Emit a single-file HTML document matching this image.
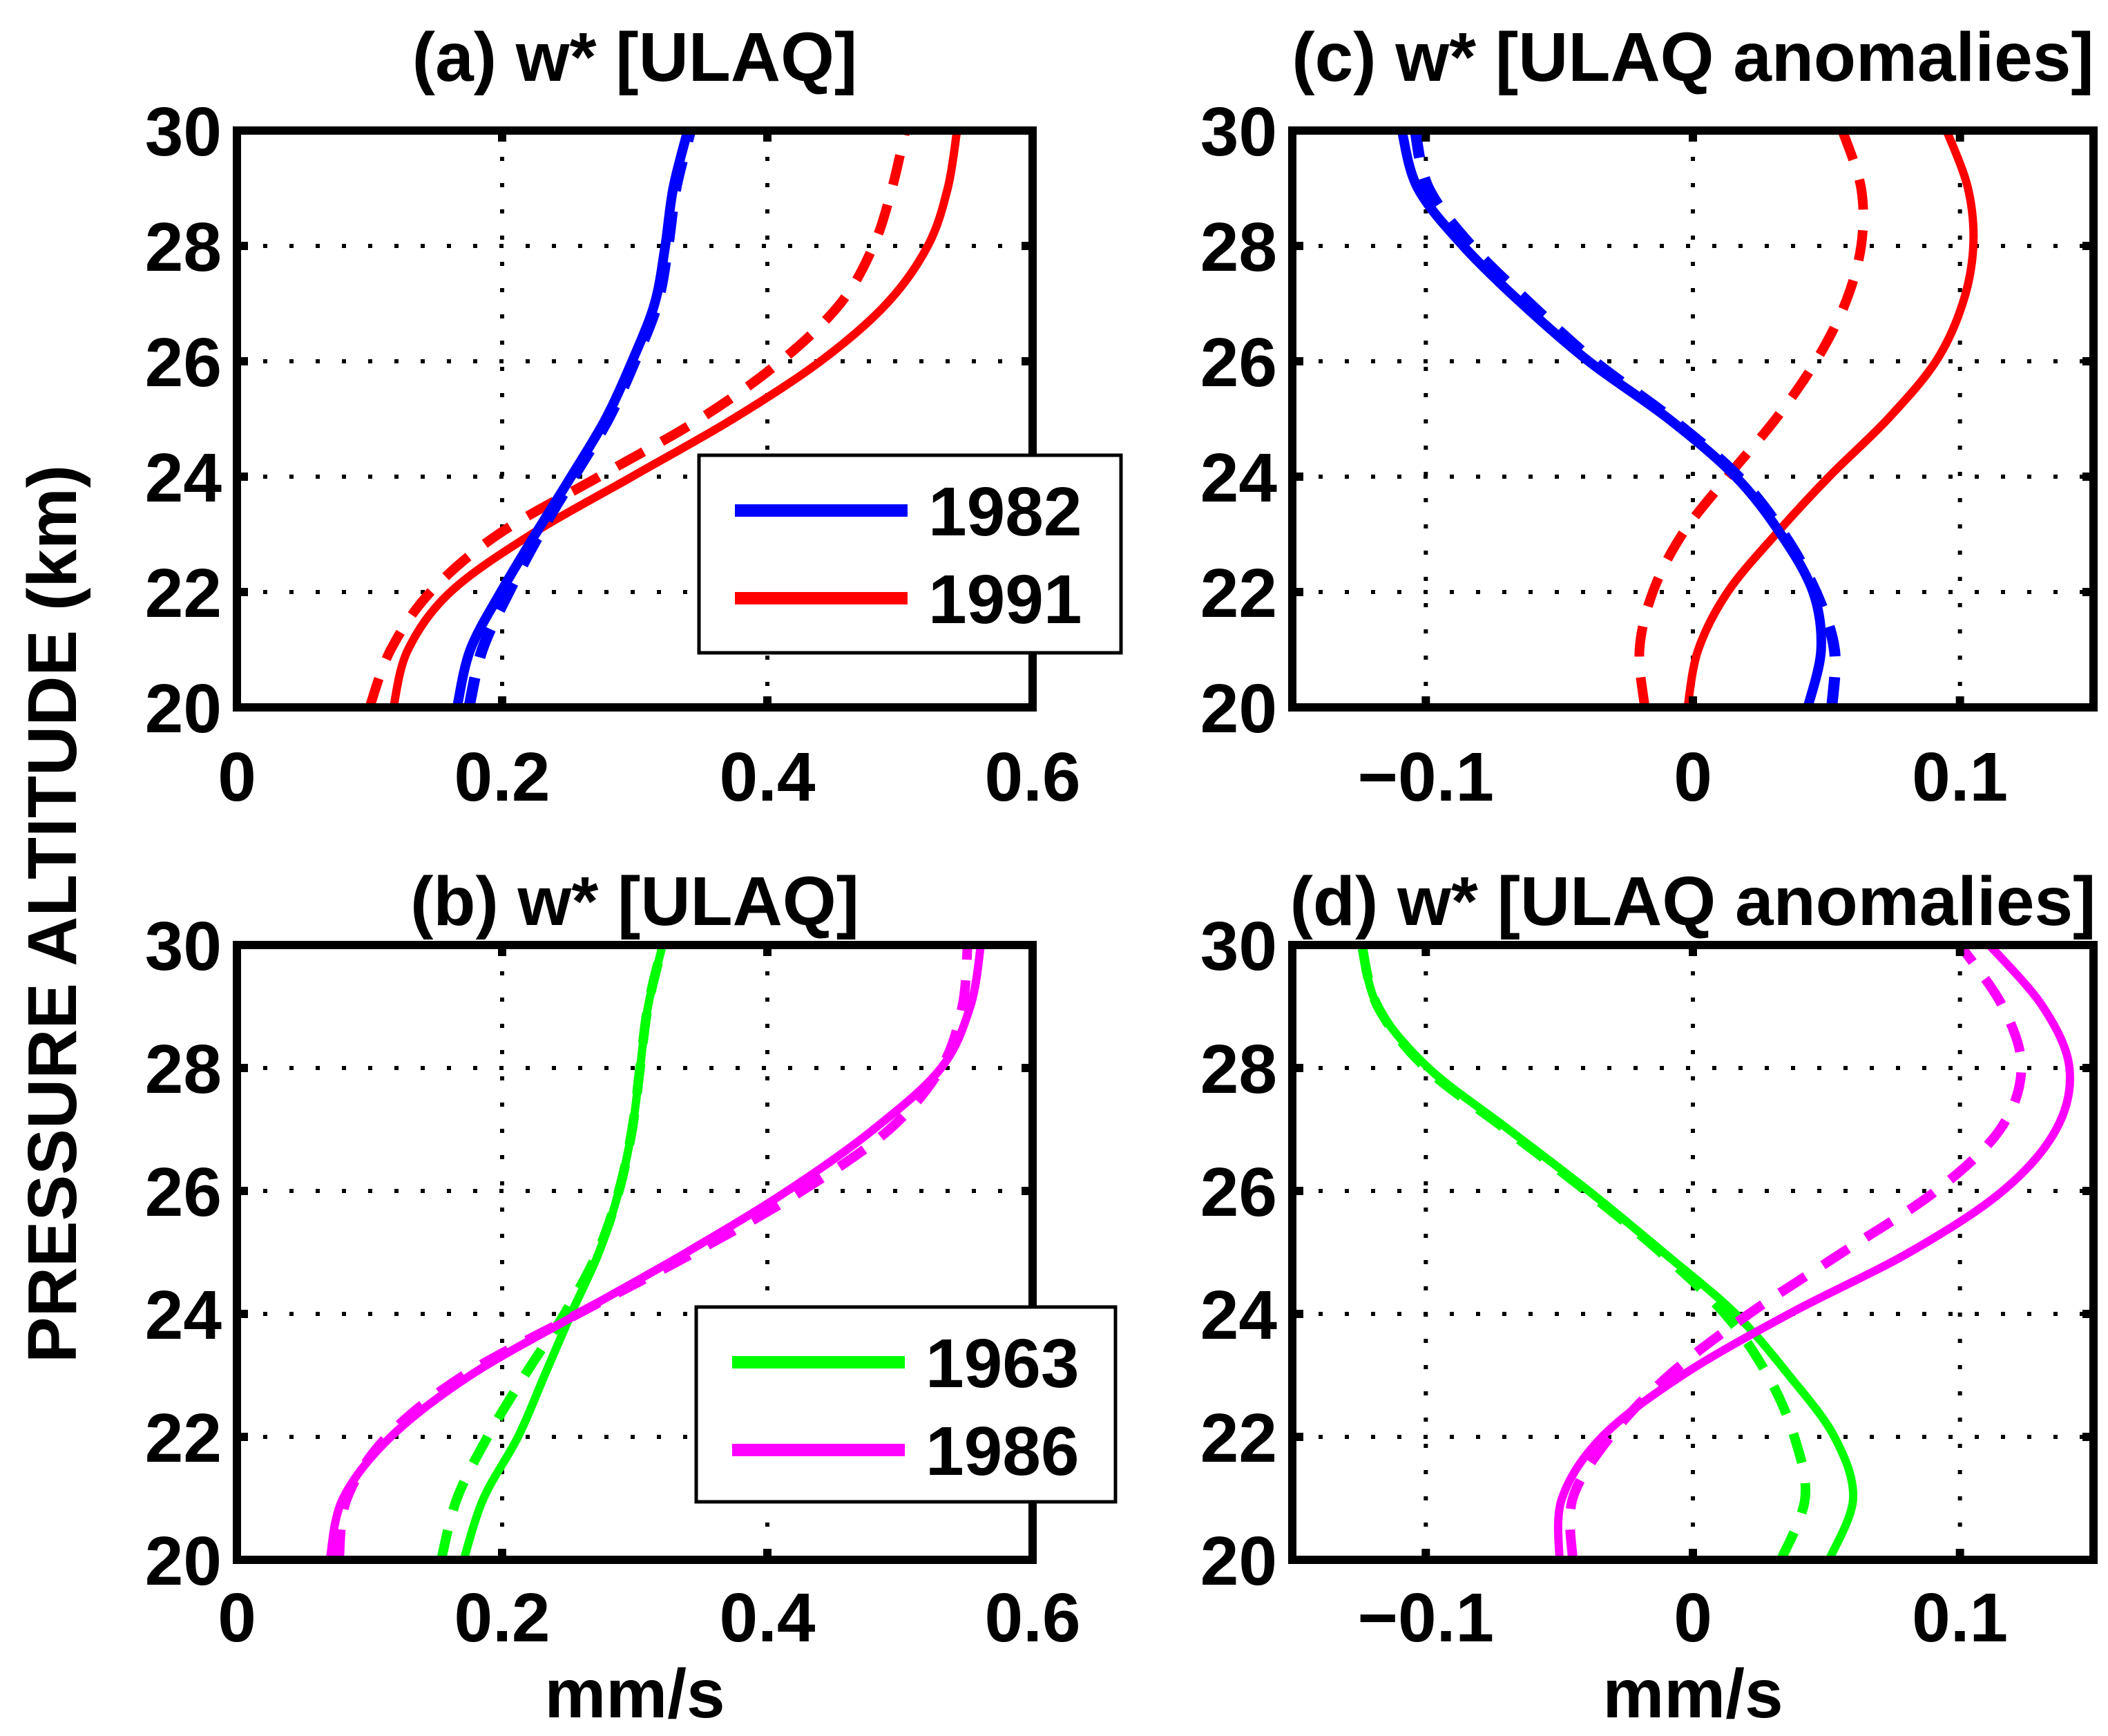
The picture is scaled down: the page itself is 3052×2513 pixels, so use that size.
<!DOCTYPE html>
<html><head><meta charset="utf-8"><style>
html,body{margin:0;padding:0;background:#fff}
svg{display:block}
text{font-family:"Liberation Sans",Arial,sans-serif;font-weight:bold;fill:#000}
</style></head><body>
<svg id="fig" width="3052" height="2513" viewBox="0 0 3052 2513" xmlns="http://www.w3.org/2000/svg"></svg>
<script>
const altitudes = [20,21,22,23,24,25,26,27,28,29,30];
const a1982 = [0.166,0.176,0.199,0.225,0.252,0.278,0.298,0.315,0.323,0.329,0.340];
const a1982d = [0.175,0.185,0.205,0.228,0.254,0.280,0.300,0.317,0.325,0.331,0.342];
const a1991 = [0.118,0.129,0.161,0.222,0.298,0.374,0.440,0.490,0.521,0.536,0.543];
const a1991d = [0.100,0.116,0.146,0.197,0.273,0.349,0.410,0.455,0.480,0.494,0.504];
const c1982 = [0.043,0.048,0.045,0.033,0.016,-0.009,-0.039,-0.064,-0.086,-0.103,-0.109];
const c1982d = [0.052,0.053,0.046,0.034,0.017,-0.008,-0.037,-0.061,-0.083,-0.099,-0.104];
const c1991 = [-0.002,0.002,0.013,0.031,0.051,0.073,0.091,0.101,0.105,0.103,0.095];
const c1991d = [-0.018,-0.020,-0.015,-0.004,0.013,0.031,0.046,0.057,0.063,0.063,0.056];
const b1963 = [0.171,0.186,0.212,0.232,0.252,0.273,0.288,0.298,0.304,0.310,0.321];
const b1963d = [0.154,0.166,0.189,0.217,0.247,0.272,0.288,0.298,0.304,0.310,0.321];
const b1986 = [0.070,0.080,0.116,0.176,0.257,0.339,0.415,0.480,0.531,0.553,0.561];
const b1986d = [0.077,0.083,0.113,0.171,0.257,0.345,0.426,0.492,0.531,0.547,0.551];
const d1963 = [0.051,0.060,0.053,0.036,0.016,-0.011,-0.039,-0.069,-0.099,-0.118,-0.124];
const d1963d = [0.033,0.042,0.038,0.028,0.012,-0.012,-0.040,-0.070,-0.100,-0.118,-0.124];
const d1986 = [-0.050,-0.049,-0.034,-0.004,0.036,0.081,0.116,0.136,0.141,0.131,0.111];
const d1986d = [-0.045,-0.045,-0.031,-0.009,0.021,0.056,0.091,0.115,0.123,0.116,0.100];
const yTicks = [20,22,24,26,28,30];
const xTicksAbs = [0,0.2,0.4,0.6];
const xTickLabelsAbs = ["0","0.2","0.4","0.6"];
const xTicksAn = [-0.1,0,0.1];
const xTickLabelsAn = ["\u22120.1","0","0.1"];

const NS="http://www.w3.org/2000/svg";
const svg=document.getElementById('fig');
function mk(tag,attrs,parent){const e=document.createElementNS(NS,tag);for(const k in attrs)e.setAttribute(k,attrs[k]);(parent||svg).appendChild(e);return e;}

function smooth(pts){
  let d="M"+pts[0][0].toFixed(1)+","+pts[0][1].toFixed(1);
  for(let i=0;i<pts.length-1;i++){
    const p0=pts[Math.max(0,i-1)],p1=pts[i],p2=pts[i+1],p3=pts[Math.min(pts.length-1,i+2)];
    const c1=[p1[0]+(p2[0]-p0[0])/6,p1[1]+(p2[1]-p0[1])/6];
    const c2=[p2[0]-(p3[0]-p1[0])/6,p2[1]-(p3[1]-p1[1])/6];
    d+=" C"+c1[0].toFixed(1)+","+c1[1].toFixed(1)+" "+c2[0].toFixed(1)+","+c2[1].toFixed(1)+" "+p2[0].toFixed(1)+","+p2[1].toFixed(1);
  }
  return d;
}

function panel(cfg){
  const g=mk('g',{});
  
  
  const X=v=>cfg.x0+(v-cfg.xmin)/(cfg.xmax-cfg.xmin)*(cfg.x1-cfg.x0);
  const Y=v=>cfg.y1-(v-20)/10*(cfg.y1-cfg.y0);
  cfg.xt.forEach(v=>{const l=mk('line',{x1:X(v),x2:X(v),y1:cfg.y0,y2:cfg.y1,stroke:'#000','stroke-width':6,'stroke-dasharray':'6 32'},g);
    });
  yTicks.forEach(v=>{const l=mk('line',{x1:cfg.x0,x2:cfg.x1,y1:Y(v),y2:Y(v),stroke:'#000','stroke-width':6,'stroke-dasharray':'6 32'},g);
    });
  cfg.series.forEach(s=>{
    const pts=altitudes.map((a,i)=>[X(s.v[i]),Y(a)]);
    const p=mk('path',{d:smooth(pts),fill:'none',stroke:s.c,'stroke-width':s.w,'stroke-dasharray':s.dash?'44 30':'none'},g);
    
    
  });
  cfg.xt.forEach(v=>{mk('line',{x1:X(v),x2:X(v),y1:cfg.y1,y2:cfg.y1-16,stroke:'#000','stroke-width':12},g);mk('line',{x1:X(v),x2:X(v),y1:cfg.y0,y2:cfg.y0+16,stroke:'#000','stroke-width':12},g);});
  yTicks.forEach(v=>{mk('line',{x1:cfg.x0,x2:cfg.x0+16,y1:Y(v),y2:Y(v),stroke:'#000','stroke-width':12},g);mk('line',{x1:cfg.x1,x2:cfg.x1-16,y1:Y(v),y2:Y(v),stroke:'#000','stroke-width':12},g);});
  const fr=mk('rect',{x:cfg.x0,y:cfg.y0,width:cfg.x1-cfg.x0,height:cfg.y1-cfg.y0,fill:'none',stroke:'#000','stroke-width':12},g);
  
  cfg.xt.forEach((v,i)=>{const t=mk('text',{x:X(v),y:cfg.y1+93+cfg.xlOff,'font-size':100,'text-anchor':'middle'},g);t.textContent=cfg.xl[i];
    });
  yTicks.forEach(v=>{const t=mk('text',{x:cfg.x0-22,y:Y(v)+36,'font-size':100,'text-anchor':'end'},g);t.textContent=String(v);
    });
  const tt=mk('text',{x:(cfg.x0+cfg.x1)/2,y:cfg.y0-72+cfg.tOff,'font-size':100,'text-anchor':'middle'},g);tt.textContent=cfg.title;
  
  if(cfg.xlabel){const t=mk('text',{x:(cfg.x0+cfg.x1)/2,y:2486,'font-size':100,'text-anchor':'middle'},g);t.textContent='mm/s';
    }
  if(cfg.legend){const L=cfg.legend;
    const lg=mk('g',{},g);
    mk('rect',{x:L.x,y:L.y,width:L.w,height:L.h,fill:'#fff',stroke:'#000','stroke-width':5},lg);
    L.items.forEach((it,i)=>{const yy=L.y+80+i*127;
      const ln=mk('line',{x1:L.x+52,x2:L.x+302,y1:yy,y2:yy,stroke:it.c,'stroke-width':18},lg);
      
      const t=mk('text',{x:L.x+332,y:yy+36,'font-size':100},lg);t.textContent=it.t;
      });
  }
}

panel({name:'panel-a',x0:343,x1:1495,y0:189,y1:1024,xmin:0,xmax:0.6,xt:xTicksAbs,xl:xTickLabelsAbs,title:'(a) w* [ULAQ]',xlOff:42,tOff:0,
  series:[{v:a1991d,c:'#ff0000',w:14,dash:true,n:'line-1991-dashed'},{v:a1991,c:'#ff0000',w:12,n:'line-1991'},
          {v:a1982d,c:'#0000ff',w:16,dash:true,n:'line-1982-dashed'},{v:a1982,c:'#0000ff',w:14,n:'line-1982'}],
  legend:{x:1012,y:659,w:611,h:286,items:[{c:'#0000ff',t:'1982'},{c:'#ff0000',t:'1991'}]}});
panel({name:'panel-c',x0:1871,x1:3031,y0:189,y1:1024,xmin:-0.15,xmax:0.15,xt:xTicksAn,xl:xTickLabelsAn,title:'(c) w* [ULAQ anomalies]',xlOff:42,tOff:0,
  series:[{v:c1991d,c:'#ff0000',w:14,dash:true,n:'line-1991-dashed'},{v:c1991,c:'#ff0000',w:12,n:'line-1991'},
          {v:c1982d,c:'#0000ff',w:16,dash:true,n:'line-1982-dashed'},{v:c1982,c:'#0000ff',w:14,n:'line-1982'}]});
panel({name:'panel-b',x0:343,x1:1495,y0:1368,y1:2258,xmin:0,xmax:0.6,xt:xTicksAbs,xl:xTickLabelsAbs,title:'(b) w* [ULAQ]',xlabel:true,xlOff:25,tOff:43,
  series:[{v:b1963d,c:'#00ff00',w:14,dash:true,n:'line-1963-dashed'},{v:b1963,c:'#00ff00',w:12,n:'line-1963'},
          {v:b1986d,c:'#ff00ff',w:14,dash:true,n:'line-1986-dashed'},{v:b1986,c:'#ff00ff',w:12,n:'line-1986'}],
  legend:{x:1008,y:1892,w:607,h:282,items:[{c:'#00ff00',t:'1963'},{c:'#ff00ff',t:'1986'}]}});
panel({name:'panel-d',x0:1871,x1:3031,y0:1368,y1:2258,xmin:-0.15,xmax:0.15,xt:xTicksAn,xl:xTickLabelsAn,title:'(d) w* [ULAQ anomalies]',xlabel:true,xlOff:25,tOff:43,
  series:[{v:d1963d,c:'#00ff00',w:14,dash:true,n:'line-1963-dashed'},{v:d1963,c:'#00ff00',w:12,n:'line-1963'},
          {v:d1986d,c:'#ff00ff',w:14,dash:true,n:'line-1986-dashed'},{v:d1986,c:'#ff00ff',w:12,n:'line-1986'}]});

const yl=mk('text',{x:0,y:0,'font-size':100,'text-anchor':'middle',transform:'translate(110,1323) rotate(-90)'});
yl.textContent='PRESSURE ALTITUDE (km)';


</script>
</body></html>
